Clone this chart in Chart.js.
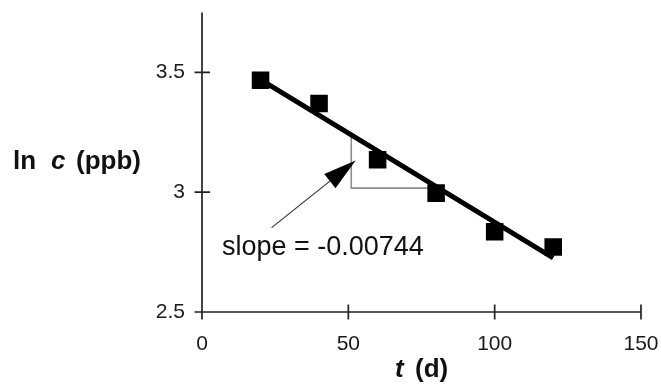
<!DOCTYPE html>
<html><head><meta charset="utf-8">
<script src="https://cdn.jsdelivr.net/npm/chart.js@4.4.0/dist/chart.umd.min.js"></script>
<style>html,body{margin:0;padding:0;background:#fff;}canvas{display:block}</style>
</head><body>
<canvas id="c" width="661" height="390"></canvas>
<script>
const days = [20, 40, 60, 80, 100, 120];
const lnConc = [3.467, 3.370, 3.135, 2.996, 2.835, 2.771];
const fitDays = [20, 120];
const fitLnConc = [3.470, 2.726];
const triDays = [51, 51, 79];
const triLnConc = [3.235, 3.017, 3.017];
const xTicks = [0, 50, 100, 150];
const yTicks = [2.5, 3, 3.5];
const xTickLabels = ['0', '50', '100', '150'];
const yTickLabels = ['2.5', '3', '3.5'];
const slopeText = 'slope = -0.00744';
const arrowFrom = [23.8, 2.852];
const arrowTo = [52.5, 3.132];
const labelAt = [6.8, 2.736];

const FONT = '"Liberation Sans", Arial, sans-serif';

const deco = {
  id: 'deco',
  beforeDatasetsDraw(chart) {
    const {ctx, scales: {x, y}} = chart;
    ctx.save();
    ctx.strokeStyle = '#222';
    ctx.lineWidth = 1.7;
    const x0 = x.getPixelForValue(0), y0 = y.getPixelForValue(2.5);
    ctx.beginPath();
    ctx.moveTo(x0, y.getPixelForValue(3.75));
    ctx.lineTo(x0, y0);
    ctx.lineTo(x.getPixelForValue(150), y0);
    xTicks.forEach(v => { const p = x.getPixelForValue(v); ctx.moveTo(p, y0 - 7.5); ctx.lineTo(p, y0 + 7.5); });
    yTicks.forEach(v => { const p = y.getPixelForValue(v); ctx.moveTo(x0 - 7.5, p); ctx.lineTo(x0 + 8, p); });
    ctx.stroke();
    ctx.restore();
  },
  afterDraw(chart) {
    const {ctx, scales: {x, y}} = chart;
    ctx.save();
    const fx = x.getPixelForValue(arrowFrom[0]), fy = y.getPixelForValue(arrowFrom[1]);
    const tx = x.getPixelForValue(arrowTo[0]), ty = y.getPixelForValue(arrowTo[1]);
    const ang = Math.atan2(ty - fy, tx - fx);
    const hl = 33, hw = 9;
    const bx = tx - hl * Math.cos(ang), by = ty - hl * Math.sin(ang);
    ctx.strokeStyle = '#333';
    ctx.lineWidth = 1.2;
    ctx.beginPath(); ctx.moveTo(fx, fy); ctx.lineTo(bx, by); ctx.stroke();
    ctx.fillStyle = '#000';
    ctx.beginPath();
    ctx.moveTo(tx, ty);
    ctx.lineTo(bx + hw * Math.sin(ang), by - hw * Math.cos(ang));
    ctx.lineTo(bx - hw * Math.sin(ang), by + hw * Math.cos(ang));
    ctx.closePath(); ctx.fill();
    ctx.fillStyle = '#111';
    ctx.textBaseline = 'alphabetic';
    ctx.textAlign = 'left';
    ctx.font = '27px ' + FONT;
    ctx.fillText(slopeText, x.getPixelForValue(labelAt[0]), y.getPixelForValue(labelAt[1]));
    ctx.font = 'bold 26px ' + FONT;
    ctx.fillText('ln', 13, 169);
    ctx.font = 'italic bold 26px ' + FONT;
    ctx.fillText('c', 51, 169);
    ctx.font = 'bold 26px ' + FONT;
    ctx.fillText('(ppb)', 76, 169);
    ctx.font = 'italic bold 26px ' + FONT;
    ctx.fillText('t', 395, 377);
    ctx.font = 'bold 26px ' + FONT;
    ctx.fillText('(d)', 415, 377);
    ctx.restore();
  }
};

const noPad = s => { s.paddingTop = 0; s.paddingBottom = 0; s.paddingLeft = 0; s.paddingRight = 0; };

new Chart(document.getElementById('c'), {
  type: 'scatter',
  data: {
    datasets: [
      {
        data: days.map((d, i) => ({x: d, y: lnConc[i]})),
        pointStyle: 'rect', pointRadius: 12.4, pointHoverRadius: 12.4,
        backgroundColor: '#000', borderWidth: 0, showLine: false, order: 0
      },
      {
        data: fitDays.map((d, i) => ({x: d, y: fitLnConc[i]})),
        showLine: true, borderColor: '#000', borderWidth: 5, pointRadius: 0, order: 1,
        borderCapStyle: 'butt'
      },
      {
        data: triDays.map((d, i) => ({x: d, y: triLnConc[i]})),
        showLine: true, borderColor: '#8c8c8c', borderWidth: 1.6, pointRadius: 0, order: 2
      }
    ]
  },
  options: {
    responsive: false,
    animation: false,
    devicePixelRatio: 1,
    layout: {padding: {left: 0, top: 12, right: 20, bottom: 0}},
    plugins: {legend: {display: false}, tooltip: {enabled: false}},
    scales: {
      x: {
        type: 'linear', min: 0, max: 150,
        afterBuildTicks: s => { s.ticks = xTicks.map(v => ({value: v})); },
        afterFit: s => { s.height = 78; noPad(s); },
        grid: {display: false, drawTicks: false},
        border: {display: false},
        ticks: {
          callback: v => xTickLabels[xTicks.indexOf(v)],
          font: {family: FONT, size: 21}, color: '#1a1a1a', padding: 20, maxRotation: 0
        }
      },
      y: {
        type: 'linear', min: 2.5, max: 3.75,
        afterBuildTicks: s => { s.ticks = yTicks.map(v => ({value: v})); },
        afterFit: s => { s.width = 202; noPad(s); },
        grid: {display: false, drawTicks: false},
        border: {display: false},
        ticks: {
          callback: v => yTickLabels[yTicks.indexOf(v)],
          font: {family: FONT, size: 21}, color: '#1a1a1a', padding: 17
        }
      }
    }
  },
  plugins: [deco]
});
</script>
</body></html>
